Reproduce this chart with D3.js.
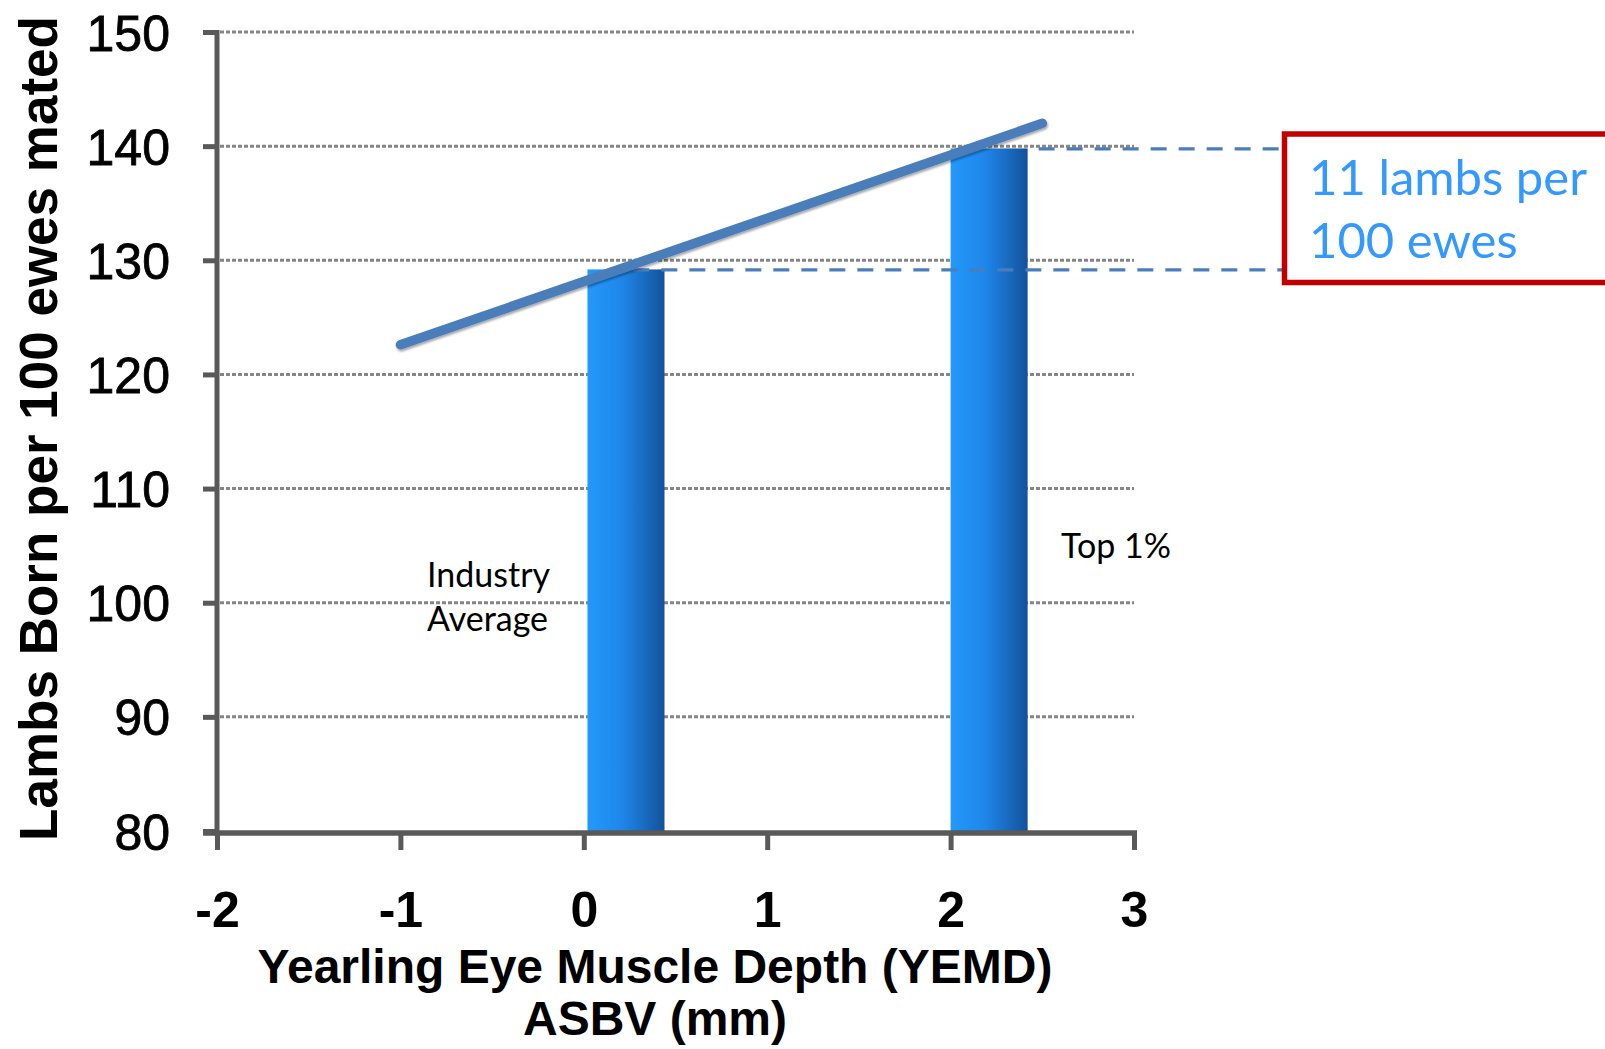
<!DOCTYPE html>
<html>
<head>
<meta charset="utf-8">
<script src="https://cdn.jsdelivr.net/npm/d3@7"></script>
<style>
  html, body { margin: 0; padding: 0; background: #ffffff; overflow: hidden; }
  svg { display: block; }
</style>
</head>
<body>
<svg id="chart" width="1605" height="1049"></svg>
<script>
// ---------------- data ----------------
const xTicks = [-2, -1, 0, 1, 2, 3];
const yTicks = [80, 90, 100, 110, 120, 130, 140, 150];
const gridValues = [90, 100, 110, 120, 130, 140, 150];

const barLabels = ["Industry Average", "Top 1%"];
const barStart = [0.02, 2.0];     // YEMD ASBV (mm)
const barEnd = [0.44, 2.42];
const barValues = [129.2, 139.8]; // lambs born per 100 ewes mated

const trendX = [-1, 2.5];
const trendY = [122.6, 142.0];

const calloutText = ["11 lambs per", "100 ewes"];
const yTitle = "Lambs Born per 100 ewes mated";
const xTitle = ["Yearling Eye Muscle Depth (YEMD)", "ASBV (mm)"];

// ---------------- layout ----------------
const svg = d3.select("#chart");
const x = d3.scaleLinear().domain([-2, 3]).range([217, 1134]);
const y = d3.scaleLinear().domain([80, 150]).range([831, 32]);

const axisColor = "#595959";
const boldFont = "'Liberation Sans', Arial, sans-serif";
const calFont = "Lato, 'Open Sans', sans-serif";
const tickFmt = d => String(d);

// gradient for bars
const defs = svg.append("defs");
const grad = defs.append("linearGradient").attr("id", "barGrad")
  .attr("x1", "0%").attr("x2", "100%").attr("y1", "0%").attr("y2", "0%");
grad.append("stop").attr("offset", "0%").attr("stop-color", "#2399FB");
grad.append("stop").attr("offset", "45%").attr("stop-color", "#1F86EA");
grad.append("stop").attr("offset", "100%").attr("stop-color", "#13529A");

const shadow = defs.append("filter").attr("id", "lineShadow")
  .attr("x", "-10%").attr("y", "-50%").attr("width", "120%").attr("height", "200%");
shadow.append("feGaussianBlur").attr("in", "SourceAlpha").attr("stdDeviation", 1.2).attr("result", "b");
shadow.append("feOffset").attr("in", "b").attr("dx", 1).attr("dy", 2).attr("result", "o");
shadow.append("feComponentTransfer").attr("in", "o").attr("result", "s")
  .append("feFuncA").attr("type", "linear").attr("slope", 0.35);
const fm = shadow.append("feMerge");
fm.append("feMergeNode").attr("in", "s");
fm.append("feMergeNode").attr("in", "SourceGraphic");

// gridlines
svg.append("g").selectAll("line").data(gridValues).join("line")
  .attr("x1", x(-2) + 3).attr("x2", x(3))
  .attr("y1", d => y(d)).attr("y2", d => y(d))
  .attr("stroke", "#858585").attr("stroke-width", 3)
  .attr("stroke-dasharray", "4,2");

// bars
svg.append("g").selectAll("rect").data(barValues).join("rect")
  .attr("x", (d, i) => x(barStart[i]))
  .attr("width", (d, i) => x(barEnd[i]) - x(barStart[i]))
  .attr("y", d => y(d))
  .attr("height", d => y(80) - y(d))
  .attr("fill", "url(#barGrad)");

// dashed callout lines
const dashStart = [0.27, 2.48];
svg.append("g").selectAll("line").data(barValues).join("line")
  .attr("x1", (d, i) => x(dashStart[i])).attr("x2", 1284)
  .attr("y1", d => y(d) + 0.5).attr("y2", d => y(d) + 0.5)
  .attr("stroke", "#4A7EBB").attr("stroke-width", 3.2)
  .attr("stroke-dasharray", "16,12");

// trend line
const lineGen = d3.line().x(d => x(d[0])).y(d => y(d[1]));
svg.append("path")
  .datum(trendX.map((v, i) => [v, trendY[i]]))
  .attr("d", lineGen)
  .attr("fill", "none")
  .attr("stroke", "#4A7EBB")
  .attr("stroke-width", 9.5)
  .attr("stroke-linecap", "round")
  .attr("filter", "url(#lineShadow)");

// y axis
const yAxis = d3.axisLeft(y).tickValues(yTicks).tickSize(14).tickPadding(33)
  .tickFormat(tickFmt);
const gy = svg.append("g").attr("transform", `translate(${x(-2)},0)`).call(yAxis);
gy.select(".domain").remove();
gy.selectAll(".tick line").attr("stroke", axisColor).attr("stroke-width", 5);
gy.selectAll(".tick text")
  .attr("font-family", boldFont).attr("font-size", 50).attr("fill", "#000")
  .attr("stroke", "#000").attr("stroke-width", 0.8)
  .attr("dy", "0.36em");
svg.append("line")
  .attr("x1", x(-2)).attr("x2", x(-2))
  .attr("y1", y(150) - 2).attr("y2", y(80) + 5)
  .attr("stroke", axisColor).attr("stroke-width", 5);

// x axis
const xAxis = d3.axisBottom(x).tickValues(xTicks).tickSize(17).tickPadding(77)
  .tickFormat(tickFmt);
const gx = svg.append("g").attr("transform", `translate(0,${y(80) + 2})`).call(xAxis);
gx.select(".domain").remove();
gx.selectAll(".tick line").attr("stroke", axisColor).attr("stroke-width", 5);
gx.selectAll(".tick text")
  .attr("font-family", boldFont).attr("font-size", 50).attr("font-weight", "bold")
  .attr("fill", "#000").attr("dy", 0);
svg.append("line")
  .attr("x1", x(-2) - 14).attr("x2", x(3) + 3)
  .attr("y1", y(80) + 2).attr("y2", y(80) + 2)
  .attr("stroke", axisColor).attr("stroke-width", 5.5);

// axis titles
svg.append("text")
  .attr("transform", "translate(57,428.5) rotate(-90)")
  .attr("text-anchor", "middle")
  .attr("font-family", boldFont).attr("font-weight", "bold").attr("font-size", 53)
  .attr("fill", "#000")
  .text(yTitle);

svg.append("g").selectAll("text").data(xTitle).join("text")
  .attr("x", 655).attr("y", (d, i) => 983 + i * 52)
  .attr("text-anchor", "middle")
  .attr("font-family", boldFont).attr("font-weight", "bold").attr("font-size", 48)
  .attr("fill", "#000")
  .text(d => d);

// bar labels
const labelG = svg.append("g").attr("font-family", calFont).attr("font-size", 34).attr("fill", "#000");
labelG.append("text").attr("x", 427).attr("y", 587).text("Industry");
labelG.append("text").attr("x", 427).attr("y", 631).text("Average");
labelG.append("text").attr("x", 1061).attr("y", 558).text(barLabels[1]);

// callout box
svg.append("rect")
  .attr("x", 1284.5).attr("y", 134).attr("width", 400).attr("height", 148.5)
  .attr("fill", "#fff").attr("stroke", "#C00000").attr("stroke-width", 5.5);
svg.append("g").selectAll("text").data(calloutText).join("text")
  .attr("x", 1309).attr("y", (d, i) => 195 + i * 63)
  .attr("font-family", calFont).attr("font-size", 49).attr("fill", "#3399FF")
  .text(d => d);
</script>
</body>
</html>
